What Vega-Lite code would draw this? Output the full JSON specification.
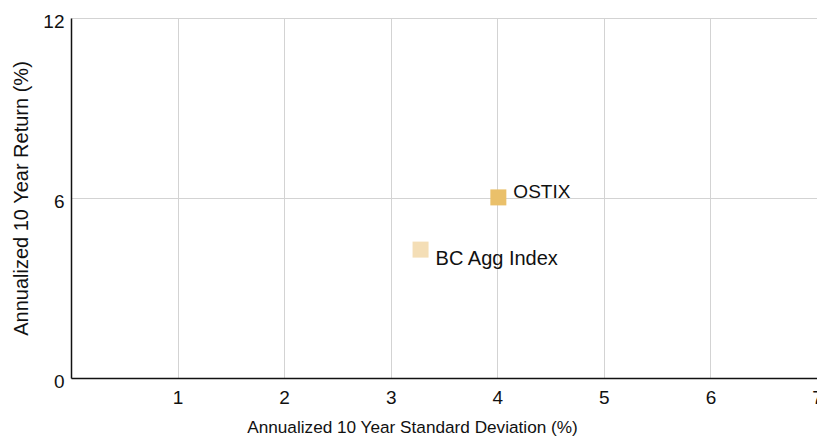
{
  "$schema": "https://vega.github.io/schema/vega-lite/v6.json",
  "autosize": "none",
  "width": 746,
  "height": 360,
  "padding": {"left": 71, "top": 18, "right": 0, "bottom": 59},
  "background": "white",
  "config": {
    "view": {"stroke": null},
    "font": "Liberation Sans",
    "axis": {
      "labelFont": "Liberation Sans",
      "titleFont": "Liberation Sans",
      "labelFontSize": 19,
      "titleFontSize": 20,
      "titleFontWeight": "normal",
      "labelColor": "#111",
      "titleColor": "#111",
      "gridColor": "#d3d3d3",
      "gridWidth": 1,
      "domainColor": "#111",
      "domainWidth": 1.5,
      "ticks": false,
      "zindex": 1
    }
  },
  "data": {
    "values": [
      {"fund": "OSTIX", "sd": 4.01, "ret": 6.02},
      {"fund": "BC Agg Index", "sd": 3.28, "ret": 4.28}
    ]
  },
  "encoding": {
    "x": {
      "field": "sd", "type": "quantitative",
      "scale": {"domain": [0, 7], "nice": false},
      "axis": {
        "title": "Annualized 10 Year Standard Deviation (%)",
        "values": [1, 2, 3, 4, 5, 6, 7],
        "labelPadding": 10,
        "labelFlush": false,
        "titleFontSize": 17.2,
        "titleX": 341,
        "titleY": 54,
        "titleAlign": "center",
        "titleBaseline": "alphabetic",
        "titleAnchor": null
      }
    },
    "y": {
      "field": "ret", "type": "quantitative",
      "scale": {"domain": [0, 12], "nice": false},
      "axis": {
        "title": "Annualized 10 Year Return (%)",
        "values": [0, 6, 12],
        "labelPadding": 7,
        "labelOffset": 3,
        "labelFlush": false,
        "titleX": -50,
        "titleBaseline": "middle"
      }
    }
  },
  "layer": [
    {
      "mark": {"type": "point", "shape": "square", "filled": true, "opacity": 1, "size": 256},
      "encoding": {
        "color": {
          "field": "fund", "type": "nominal",
          "scale": {"domain": ["OSTIX", "BC Agg Index"], "range": ["#EAC06A", "#F4DEB6"]},
          "legend": null
        }
      }
    },
    {
      "transform": [{"filter": "datum.fund == 'OSTIX'"}],
      "mark": {"type": "text", "align": "left", "baseline": "middle", "dx": 15, "dy": -5, "fontSize": 19, "font": "Liberation Sans", "color": "#111"},
      "encoding": {"text": {"field": "fund"}}
    },
    {
      "transform": [{"filter": "datum.fund == 'BC Agg Index'"}],
      "mark": {"type": "text", "align": "left", "baseline": "middle", "dx": 15, "dy": 9, "fontSize": 20, "font": "Liberation Sans", "color": "#111"},
      "encoding": {"text": {"field": "fund"}}
    }
  ]
}
